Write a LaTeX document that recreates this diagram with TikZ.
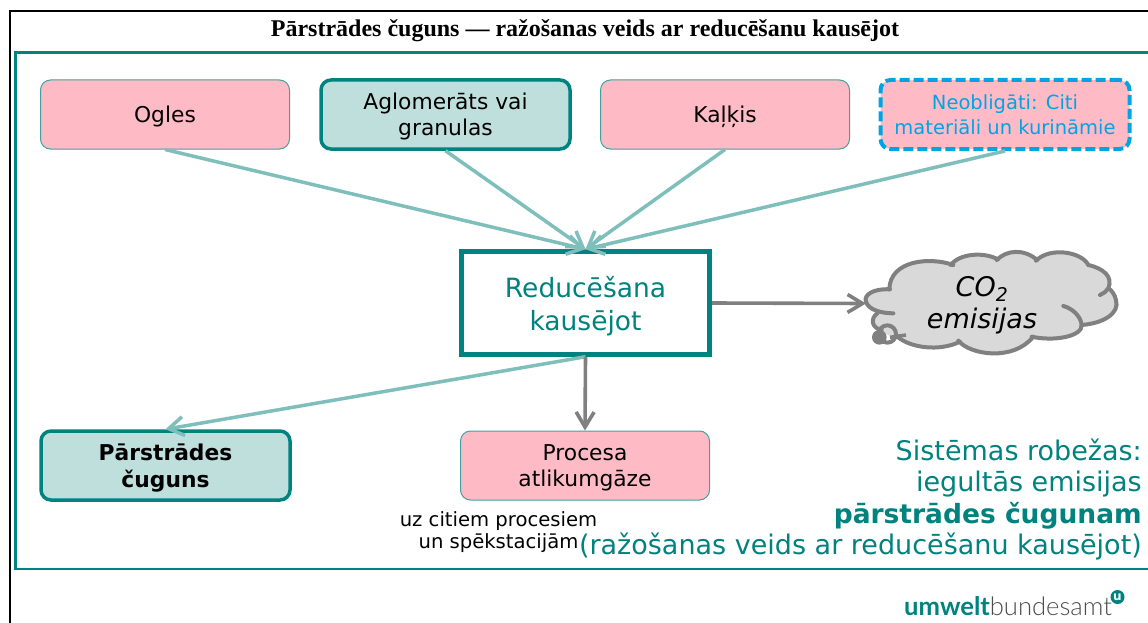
\documentclass[tikz,border=0pt]{standalone}
\usepackage{fontspec}
\usetikzlibrary{arrows.meta}
\setmainfont{DejaVu Sans}
\newfontfamily\titlefont{Liberation Serif}
\newfontfamily\logofont{Lato}
\newfontfamily\logolight{Lato Light}
\definecolor{teal1}{HTML}{00827F}
\definecolor{tealfill}{HTML}{BFDFDD}
\definecolor{teallight}{HTML}{7FBFBB}
\definecolor{pinkfill}{HTML}{FFBBC5}
\definecolor{cyan1}{HTML}{00A4E4}
\definecolor{gray1}{HTML}{808080}
\definecolor{cloudfill}{HTML}{D9D9D9}
\tikzset{
  x=1pt,y=-1pt,
  basebox/.style={rectangle,rounded corners=10pt,minimum width=249pt,minimum height=69pt,inner sep=0pt,align=center,text depth=0pt,font=\fontsize{21.8}{26}\selectfont,text=black},
  pinkbox/.style={basebox,fill=pinkfill,draw=teal1!75!white,line width=1pt},
  tealbox/.style={basebox,fill=tealfill,draw=teal1,line width=3.5pt},
  dashbox/.style={basebox,fill=pinkfill,draw=cyan1,line width=4pt,dash pattern=on 10pt off 4pt,text=cyan1,font=\fontsize{19.5}{25}\selectfont},
  lightarrow/.style={draw=teallight,line width=3.5pt,-{Straight Barb[length=15pt,width=19pt,line width=3.5pt]}},
  grayarrow/.style={draw=gray1,line width=3.6pt,-{Straight Barb[length=15pt,width=18pt,line width=3.6pt]}},
  cloudline/.style={draw=gray1,line width=4pt,line cap=round},
}
\begin{document}
\begin{tikzpicture}
\useasboundingbox (0,0) rectangle (1148,623);
\draw[black,line width=2.5pt] (10,623) -- (10,11) -- (1148,11);
\draw[teal1,line width=2.4pt] (1148,52.5) -- (15.5,52.5) -- (15.5,569) -- (1148,569);
\node[font=\titlefont\bfseries\fontsize{24}{28}\selectfont] (title) at (585,31) {Pārstrādes čuguns — ražošanas veids ar reducēšanu kausējot};

\node[pinkbox] (ogles) at (165,114.5) {Ogles};
\node[tealbox] (aglo) at (445.5,114.5) {Aglomerāts vai\\granulas};
\node[pinkbox] (kalkis) at (725,114.5) {Kaļķis};
\node[dashbox] (neob) at (1005,114.5) {Neobligāti: Citi\\materiāli un kurināmie};
\node[rectangle,draw=teal1,line width=4.5pt,fill=white,minimum width=248pt,minimum height=103pt,inner sep=0pt,align=center,text depth=0pt,text=teal1,font=\fontsize{26.5}{33}\selectfont] (red) at (585.5,303) {Reducēšana\\kausējot};
\node[tealbox,font=\bfseries\fontsize{21.8}{27}\selectfont] (cuguns) at (165.5,465.5) {Pārstrādes\\čuguns};
\node[pinkbox] (proc) at (585,465.5) {Procesa\\atlikumgāze};
\node[font=\fontsize{19.6}{22}\selectfont,align=center] (small) at (498.5,532) {uz citiem procesiem\\un spēkstacijām};
\node[anchor=east,align=right,text=teal1,inner sep=0pt,font=\fontsize{27}{31.6}\selectfont] (sys) at (1142,499.5) {Sistēmas robežas:\\iegultās emisijas\\{\bfseries\fontsize{26.5}{31.6}\selectfont pārstrādes čugunam}\\(ražošanas veids ar reducēšanu kausējot)};

% cloud
\begin{scope}[shift={(840,230)},x=0.3333pt,y=-0.3333pt]
  \fill[cloudfill] (150,172) .. controls (100,175) and (70,195) .. (78,215)
    .. controls (80,235) and (95,245) .. (112,250)
    .. controls (90,265) and (95,300) .. (170,325)
    .. controls (210,355) and (300,365) .. (360,338)
    .. controls (390,375) and (520,395) .. (578,322)
    .. controls (640,335) and (710,320) .. (725,283)
    .. controls (790,280) and (840,250) .. (828,210)
    .. controls (825,195) and (815,180) .. (805,175)
    .. controls (820,140) and (790,115) .. (745,105)
    .. controls (725,65) and (630,50) .. (588,90)
    .. controls (550,55) and (500,60) .. (470,88)
    .. controls (430,65) and (360,70) .. (335,103)
    .. controls (270,80) and (150,90) .. (150,172) -- cycle;
  \draw[cloudline] (150,178) .. controls (100,175) and (70,195) .. (78,215)
    .. controls (85,240) and (125,250) .. (160,250);
  \draw[cloudline] (112,250) .. controls (90,265) and (95,295) .. (125,300);
  \draw[cloudline] (170,318) .. controls (210,355) and (300,365) .. (360,335);
  \draw[cloudline] (355,332) .. controls (390,375) and (520,395) .. (580,320);
  \draw[cloudline] (575,320) .. controls (640,335) and (730,320) .. (725,283)
    .. controls (720,255) and (695,235) .. (670,228);
  \draw[cloudline] (725,285) .. controls (790,280) and (840,250) .. (828,210)
    .. controls (825,195) and (815,180) .. (805,175);
  \draw[cloudline] (780,195) .. controls (790,190) and (800,185) .. (805,175)
    .. controls (820,140) and (790,115) .. (745,105);
  \draw[cloudline] (745,105) .. controls (725,65) and (630,50) .. (588,92);
  \draw[cloudline] (592,90) .. controls (550,55) and (500,60) .. (470,90);
  \draw[cloudline] (474,88) .. controls (430,65) and (360,70) .. (332,105);
  \draw[cloudline] (340,105) .. controls (270,80) and (150,90) .. (148,178);
  \fill[gray1] (118,322) circle (22);
  \draw[gray1,line width=4pt] (142,312) circle (26);
  \draw[gray1,line width=3.5pt] (150,322) -- (198,315);
\end{scope}
\coordinate (cloudin) at (866,303.5);
\node[font=\itshape\fontsize{27}{32}\selectfont,align=center,inner sep=0pt] (co2) at (982,305) {CO\textsubscript{2}\\emisijas};

% connectors
\draw[lightarrow] (ogles.south) -- (red.north);
\draw[lightarrow] (aglo.south) -- (red.north);
\draw[lightarrow] (kalkis.south) -- (red.north);
\draw[lightarrow] (neob.south) -- (red.north);
\draw[lightarrow] (red.south) -- (cuguns.north);
\draw[grayarrow] (red.south) -- (proc.north);
\draw[grayarrow] (red.east) -- (cloudin);

% logo
\node[anchor=base west,inner sep=0pt,font=\fontsize{25.6}{28}\selectfont] (logo) at (904,615) {\textcolor{teal1}{\logofont\bfseries umwelt}\textcolor{black!70}{\logolight bundesamt}};
\node[circle,fill=teal1,text=white,inner sep=0pt,minimum size=14pt,font=\bfseries\fontsize{12}{12}\selectfont] (logou) at (1117.5,597) {u};
\end{tikzpicture}
\end{document}
